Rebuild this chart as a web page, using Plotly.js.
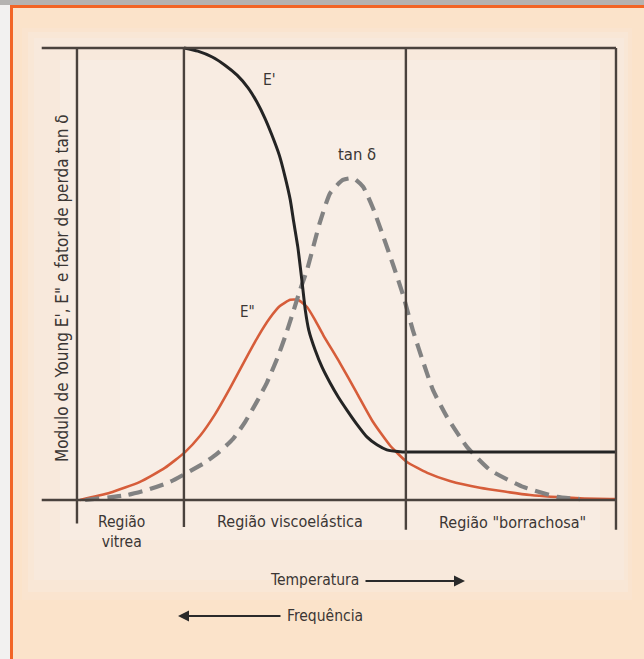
<!DOCTYPE html>
<html>
<head>
<meta charset="utf-8">
<script src="https://cdn.plot.ly/plotly-3.0.1.min.js"></script>
<style>
  html, body { margin: 0; padding: 0; background: #fbe4cc; }
  #chart { width: 644px; height: 659px; }
</style>
</head>
<body>
<div id="chart"></div>
<script>
// ---- data (arbitrary temperature units on x, relative magnitude on y) ----
const regionBounds = [6.4, 24.9, 63.3, 99.65];
const regionLabels = ["Região<br>vitrea", "Região viscoelástica", "Região \"borrachosa\""];

const ePrimeX = [24.9, 27.3, 29.8, 32.0, 34.1, 36.0, 37.5, 38.9, 40.1, 41.4, 42.4, 43.3, 43.9, 44.6, 45.3, 45.9, 46.5, 47.6, 48.8, 50.2, 51.6, 53.1, 54.8, 56.6, 58.3, 60.0, 62.3, 65.7, 99.65];
const ePrimeY = [100, 99.3, 98.0, 96.2, 94.0, 91.2, 88.1, 84.5, 80.8, 76.3, 71.5, 66.4, 61.5, 56.0, 48.7, 42.0, 37.6, 33.2, 29.4, 25.9, 22.8, 19.9, 16.8, 13.9, 12.2, 11.1, 10.7, 10.6, 10.6];

const eDoubleX = [6.9, 12.1, 17.3, 21.6, 25.1, 27.7, 30.3, 32.9, 35.5, 37.7, 39.8, 41.5, 43.3, 44.6, 46.2, 47.6, 49.0, 51.9, 54.8, 57.6, 60.6, 63.5, 67.0, 70.9, 76.1, 84.8, 93.4, 99.8];
const eDoubleY = [0, 1.6, 4.0, 7.1, 10.6, 14.2, 19.0, 24.8, 31.0, 36.1, 40.3, 42.9, 44.3, 44.3, 42.7, 39.8, 36.5, 30.3, 23.7, 17.3, 12.0, 8.4, 6.0, 4.2, 2.7, 1.1, 0.4, 0.2];

const tanDX = [7.8, 15.1, 18.5, 22.5, 25.4, 28.2, 30.6, 33.4, 35.5, 37.5, 39.3, 41.0, 42.4, 43.8, 45.0, 46.2, 48.4, 50.2, 52.4, 54.2, 55.9, 57.6, 59.3, 61.1, 62.8, 64.5, 66.3, 68.0, 70.4, 73.9, 77.9, 83.6, 89.5, 93.4];
const tanDY = [0, 1.1, 2.2, 4.0, 6.0, 8.0, 10.2, 13.5, 17.3, 21.7, 26.1, 31.2, 36.1, 41.6, 46.5, 50.9, 61.3, 67.9, 70.8, 71.2, 69.3, 64.6, 58.6, 52.0, 45.4, 37.6, 30.5, 24.3, 18.4, 11.7, 6.6, 2.9, 0.7, 0.2];

const curveLabels = ["E'", "E\"", "tan δ"];
const yTitle = "Modulo de Young E', E\" e fator de perda tan δ";
const xNotes = ["Temperatura", "Frequência"];

// ---- layout helpers (pixel -> paper) ----
const W = 644, H = 659, ML = 36, MR = 22, MT = 40, MB = 119;
const PW = W - ML - MR, PH = H - MT - MB;
const px = v => (v - ML) / PW;
const py = v => (H - MB - v) / PH;

const FONT = "DejaVu Sans Condensed, Liberation Sans Narrow, Arial Narrow, sans-serif";
const TXT = "#3b3634";
const FRAME = "#4a423d";

const traces = [
  { x: eDoubleX, y: eDoubleY, mode: "lines", line: { color: "#d65d3a", width: 2.6, shape: "spline", smoothing: 0.5 }, hoverinfo: "skip" },
  { x: tanDX, y: tanDY, mode: "lines", line: { color: "#828282", width: 4.2, dash: "14px,8px", shape: "spline", smoothing: 0.5 }, hoverinfo: "skip" },
  { x: ePrimeX, y: ePrimeY, mode: "lines", line: { color: "#242424", width: 3, shape: "spline", smoothing: 0.5 }, hoverinfo: "skip" }
];

const shapes = [];
// soft lighter glow behind the chart (nested rects)
const glow = [
  [22, 28, 632, 600, "#fae4cf"],
  [28, 32, 628, 592, "#f9e7d6"],
  [34, 38, 624, 580, "#f8e9dc"],
  [60, 60, 600, 540, "#f8ece2"],
  [120, 120, 540, 470, "#f8eee6"]
];
glow.forEach(g => shapes.push({ type: "rect", xref: "paper", yref: "paper", x0: px(g[0]), x1: px(g[2]), y0: py(g[1]), y1: py(g[3]), fillcolor: g[4], line: { width: 0 }, layer: "below" }));
// outer decoration: left shadow strip, top gray band, orange border
shapes.push(
  { type: "rect", xref: "paper", yref: "paper", x0: px(0), x1: px(10), y0: py(0), y1: py(H), fillcolor: "#f2f1f0", line: { width: 0 }, layer: "below" },
  { type: "rect", xref: "paper", yref: "paper", x0: px(0), x1: px(W), y0: py(0), y1: py(5), fillcolor: "#b5b3b1", line: { width: 0 }, layer: "below" },
  { type: "line", xref: "paper", yref: "paper", x0: px(11.5), x1: px(11.5), y0: py(6), y1: py(H), line: { color: "#f26526", width: 3 } },
  { type: "line", xref: "paper", yref: "paper", x0: px(10), x1: px(W), y0: py(6.5), y1: py(6.5), line: { color: "#f26526", width: 3 } },
  // frame
  { type: "line", xref: "x", yref: "y", x0: 0.3, x1: regionBounds[3], y0: 100, y1: 100, line: { color: FRAME, width: 2.6 } },
  { type: "line", xref: "x", yref: "y", x0: 0.3, x1: regionBounds[3], y0: 0, y1: 0, line: { color: FRAME, width: 2.6 } }
);
regionBounds.forEach((b, i) => {
  shapes.push({ type: "line", xref: "x", yref: "y", x0: b, x1: b, y0: [-5.2, -6.0, -6.6, -6.6][i], y1: 100, line: { color: FRAME, width: 2.4 } });
});

function label(x, y, text, size, extra) {
  return Object.assign({ xref: "paper", yref: "paper", x: px(x), y: py(y), xanchor: "center", yanchor: "middle", text: text, showarrow: false, font: { family: FONT, size: size, color: TXT } }, extra || {});
}

const annotations = [
  label(62, 288, yTitle, 17, { textangle: -90 }),
  label(269, 80, curveLabels[0], 15.5),
  label(247, 312, curveLabels[1], 15),
  label(357, 154, curveLabels[2], 16.5),
  label(121, 532, regionLabels[0], 15.5),
  label(290, 521, regionLabels[1], 16),
  label(512, 522, regionLabels[2], 16),
  label(361, 580, xNotes[0], 15.5, { xanchor: "right" }),
  label(285, 616, xNotes[1], 15.5, { xanchor: "left" }),
  // arrows
  { xref: "paper", yref: "paper", x: px(465), y: py(581), ax: -101, ay: 0, text: "", showarrow: true, arrowhead: 2, arrowsize: 1.1, arrowwidth: 2, arrowcolor: "#2a2a2a" },
  { xref: "paper", yref: "paper", x: px(178), y: py(616), ax: 104, ay: 0, text: "", showarrow: true, arrowhead: 2, arrowsize: 1.1, arrowwidth: 2, arrowcolor: "#2a2a2a" }
];

const layout = {
  width: W, height: H,
  margin: { l: ML, r: MR, t: MT, b: MB, pad: 0 },
  paper_bgcolor: "#fbe3ca",
  plot_bgcolor: "rgba(0,0,0,0)",
  showlegend: false,
  xaxis: { range: [-0.69, 100.69], visible: false, fixedrange: true },
  yaxis: { range: [-8.85, 101.77], visible: false, fixedrange: true },
  shapes: shapes,
  annotations: annotations
};

Plotly.newPlot("chart", traces, layout, { staticPlot: true, displayModeBar: false });
</script>
</body>
</html>
